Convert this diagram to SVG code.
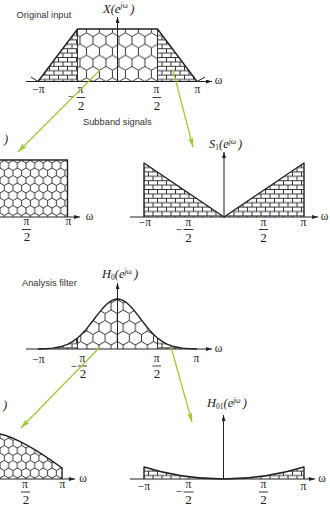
<svg xmlns="http://www.w3.org/2000/svg" width="330" height="508" viewBox="0 0 330 508">
<style>
.ax{stroke:#222;stroke-width:1;fill:none}
.ol{stroke:#222;stroke-width:1.4;fill:none;stroke-linejoin:round}
.thin{stroke:#222;stroke-width:0.9;fill:none}
.g{stroke:#9ccc3c;stroke-width:1.3;fill:none}
.cap{font-family:"Liberation Sans",Arial,sans-serif;font-size:9.3px;fill:#333}
.t{font-family:"Liberation Serif","Times New Roman",serif;font-size:11.5px;fill:#222;text-anchor:middle}
.two{font-size:13px}
.lab{font-family:"Liberation Serif","Times New Roman",serif;font-style:italic;font-size:12.5px;fill:#222}
.sup{font-size:7.5px}
.sub{font-size:7.5px;font-style:normal}
.hx{stroke:#222;stroke-width:0.9;fill:none}
</style>
<defs>
<pattern id="hexL" patternUnits="userSpaceOnUse" x="2" y="29" width="12.99" height="22.5">
<rect width="12.99" height="22.5" fill="#fff"/>
<path class="hx" d="M6.495,3.75 L12.99,7.5 L12.99,15 L6.495,18.75 L0,15 L0,7.5 Z M6.495,0 V3.75 M6.495,18.75 V22.5"/>
</pattern>
<pattern id="hexM" patternUnits="userSpaceOnUse" x="2" y="296" width="12.124" height="21">
<rect width="12.124" height="21" fill="#fff"/>
<path class="hx" d="M6.062,3.5 L12.124,7 L12.124,14 L6.062,17.5 L0,14 L0,7 Z M6.062,0 V3.5 M6.062,17.5 V21"/>
</pattern>
<pattern id="hexS" patternUnits="userSpaceOnUse" x="0" y="158" width="8.66" height="15">
<rect width="8.66" height="15" fill="#fff"/>
<path class="hx" d="M4.33,2.5 L8.66,5 L8.66,10 L4.33,12.5 L0,10 L0,5 Z M4.33,0 V2.5 M4.33,12.5 V15"/>
</pattern>
<pattern id="brick" patternUnits="userSpaceOnUse" x="0" y="0.3" width="9" height="8.8">
<rect width="9" height="8.8" fill="#fff"/>
<path class="hx" d="M0,0 H9 M0,4.4 H9 M0,8.8 H9 M0,0 V4.4 M9,0 V4.4 M4.5,4.4 V8.8"/>
</pattern>
<marker id="ah" viewBox="0 0 6 4" refX="6" refY="2" markerWidth="6" markerHeight="4" markerUnits="userSpaceOnUse" orient="auto"><path d="M0,0 L6,2 L0,4 Z" fill="#222"/></marker>
<marker id="ga" viewBox="0 0 10 6" refX="9.5" refY="3" markerWidth="10" markerHeight="6" markerUnits="userSpaceOnUse" orient="auto"><path d="M0,0.3 L10,3 L0,5.7 L2,3 Z" fill="#9ccc3c"/></marker>
</defs>
<rect width="330" height="508" fill="#fff"/>

<g id="caption-original"><text class="cap" x="16.5" y="18">Original input</text></g>
<g id="caption-subband"><text class="cap" x="83" y="124.5">Subband signals</text></g>
<g id="caption-analysis"><text class="cap" x="22" y="286">Analysis filter</text></g>

<g id="X-original">
<path d="M38,81.5 L77.5,29 L157.5,29 L197,81.5 Z" fill="url(#brick)"/>
<rect x="77.5" y="29" width="80" height="52.5" fill="url(#hexL)"/>
<path class="thin" d="M77.5,29 V81.5 M157.5,29 V81.5"/>
<path class="ol" d="M38,81.5 L77.5,29 L157.5,29 L197,81.5"/>
<path class="ax" d="M26,81.5 H212" marker-end="url(#ah)"/>
<path class="ax" d="M31,77 L38,81.5 M197,81.5 L205,77"/>
<path class="ax" d="M117.5,81.5 V17" marker-end="url(#ah)"/>
<text class="lab" x="103" y="12.5">X(e<tspan class="sup" dy="-4.5">jω</tspan><tspan dy="4.5" dx="2.5">)</tspan></text>
<text class="t" x="38.5" y="93">−π</text>
<text class="t" x="71" y="100">−</text>
<text class="t" x="80.5" y="93">π</text>
<path class="thin" d="M76.5,97.5 H85"/>
<text class="t two" x="81" y="109.5">2</text>
<text class="t" x="156.5" y="93">π</text>
<path class="thin" d="M152.5,97.5 H161"/>
<text class="t two" x="157" y="109.5">2</text>
<text class="t" x="197.5" y="93">π</text>
<text class="t" x="218.5" y="84">ω</text>
</g>

<g id="S0-subband">
<rect x="0" y="160" width="67.5" height="57" fill="url(#hexS)"/>
<path class="ol" d="M0,160 H67.5 V217"/>
<path class="ax" d="M0,217 H80" marker-end="url(#ah)"/>
<text class="lab" x="4" y="143">)</text>
<text class="t" x="26.5" y="225">π</text>
<path class="thin" d="M22,229.5 H31"/>
<text class="t two" x="27" y="241">2</text>
<text class="t" x="68.5" y="225">π</text>
<text class="t" x="89.5" y="219.5">ω</text>
</g>

<g id="S1-subband">
<path d="M144,163 L224,217 L144,217 Z" fill="url(#brick)"/>
<path d="M224,217 L304,163 L304,217 Z" fill="url(#brick)"/>
<path class="ol" d="M144,217 V163 L224,217 L304,163 V217"/>
<path class="ax" d="M130,217 H318" marker-end="url(#ah)"/>
<path class="ax" d="M224,217 V152" marker-end="url(#ah)"/>
<text class="lab" x="209" y="148">S<tspan class="sub" dy="2">1</tspan><tspan dy="-2">(e</tspan><tspan class="sup" dy="-4.5">jω</tspan><tspan dy="4.5" dx="2">)</tspan></text>
<text class="t" x="145" y="226">−π</text>
<text class="t" x="179" y="233">−</text>
<text class="t" x="188.5" y="226">π</text>
<path class="thin" d="M183.5,229.5 H193.5"/>
<text class="t two" x="188.5" y="241.5">2</text>
<text class="t" x="263.5" y="226">π</text>
<path class="thin" d="M259,229.5 H268"/>
<text class="t two" x="263.5" y="241.5">2</text>
<text class="t" x="303.5" y="226">π</text>
<text class="t" x="324.5" y="219.5">ω</text>
</g>

<g id="H0-analysis">
<path d="M38,349 L47.5,348.5 L52.5,348.1 L57.5,347.3 L62.5,346.1 L67.5,344.3 L72.5,341.6 L77.5,338 L157.5,338 L162.5,341.6 L167.5,344.3 L172.5,346.1 L177.5,347.3 L182.5,348.1 L187.5,348.5 L197,349 Z" fill="url(#brick)"/>
<path d="M77.5,349 L77.5,338 L80,335.8 L82.5,333.3 L85,330.6 L87.5,327.6 L90,324.5 L92.5,321.3 L95,318 L97.5,314.7 L100,311.6 L102.5,308.6 L105,305.9 L107.5,303.5 L110,301.6 L112.5,300.2 L115,299.3 L117.5,299 L120,299.3 L122.5,300.2 L125,301.6 L127.5,303.5 L130,305.9 L132.5,308.6 L135,311.6 L137.5,314.7 L140,318 L142.5,321.3 L145,324.5 L147.5,327.6 L150,330.6 L152.5,333.3 L155,335.8 L157.5,338 L157.5,349 Z" fill="url(#hexM)"/>
<path class="thin" d="M77.5,338 V349 M157.5,338 V349"/>
<path class="ol" d="M38,349 L47.5,348.5 L52.5,348.1 L57.5,347.3 L62.5,346.1 L67.5,344.3 L72.5,341.6 L77.5,338 L80,335.8 L82.5,333.3 L85,330.6 L87.5,327.6 L90,324.5 L92.5,321.3 L95,318 L97.5,314.7 L100,311.6 L102.5,308.6 L105,305.9 L107.5,303.5 L110,301.6 L112.5,300.2 L115,299.3 L117.5,299 L120,299.3 L122.5,300.2 L125,301.6 L127.5,303.5 L130,305.9 L132.5,308.6 L135,311.6 L137.5,314.7 L140,318 L142.5,321.3 L145,324.5 L147.5,327.6 L150,330.6 L152.5,333.3 L155,335.8 L157.5,338 L162.5,341.6 L167.5,344.3 L172.5,346.1 L177.5,347.3 L182.5,348.1 L187.5,348.5 L197,349"/>
<path class="ax" d="M26,349 H212" marker-end="url(#ah)"/>
<path class="ax" d="M117.5,349 V283" marker-end="url(#ah)"/>
<text class="lab" x="102" y="278">H<tspan class="sub" dy="2">0</tspan><tspan dy="-2">(e</tspan><tspan class="sup" dy="-4.5">jω</tspan><tspan dy="4.5" dx="2">)</tspan></text>
<text class="t" x="38.5" y="362.5">−π</text>
<text class="t" x="74" y="369.5">−</text>
<text class="t" x="82.5" y="361.5">π</text>
<path class="thin" d="M78,366 H87"/>
<text class="t two" x="83" y="378">2</text>
<text class="t" x="156.7" y="361.5">π</text>
<path class="thin" d="M152.5,366 H161"/>
<text class="t two" x="157" y="378">2</text>
<text class="t" x="196.5" y="362">π</text>
<text class="t" x="218.5" y="351.5">ω</text>
</g>

<g id="H1-analysis">
<path d="M0,434 C18,438 40,452 62,468 V479 H0 Z" fill="url(#hexS)"/>
<path class="ol" d="M0,434 C18,438 40,452 62,468 V479"/>
<path class="ax" d="M0,479 H75" marker-end="url(#ah)"/>
<text class="lab" x="3" y="409">)</text>
<text class="t" x="25" y="488">π</text>
<path class="thin" d="M21,492 H30"/>
<text class="t two" x="26" y="503.5">2</text>
<text class="t" x="62.5" y="488">π</text>
<text class="t" x="83" y="481.5">ω</text>
</g>

<g id="H01-analysis">
<path d="M144,467 Q182,479 223.5,479 L144,479 Z" fill="url(#brick)"/>
<path d="M223.5,479 Q265,479 304,467 V479 Z" fill="url(#brick)"/>
<path class="ol" d="M144,479 V467 Q182,479 223.5,479 Q265,479 304,467 V479"/>
<path class="ax" d="M130,479 H315" marker-end="url(#ah)"/>
<path class="ax" d="M223.5,479 V415" marker-end="url(#ah)"/>
<text class="lab" x="207" y="407">H<tspan class="sub" dy="2">01</tspan><tspan dy="-2">(e</tspan><tspan class="sup" dy="-4.5">jω</tspan><tspan dy="4.5" dx="2">)</tspan></text>
<text class="t" x="144" y="490">−π</text>
<text class="t" x="179" y="495">−</text>
<text class="t" x="188.5" y="488">π</text>
<path class="thin" d="M183.5,492 H193.5"/>
<text class="t two" x="188.5" y="503.5">2</text>
<text class="t" x="263.5" y="488">π</text>
<path class="thin" d="M259,492 H268"/>
<text class="t two" x="263.5" y="503.5">2</text>
<text class="t" x="303.5" y="490">π</text>
<text class="t" x="322" y="481.5">ω</text>
</g>

<g id="connectors">
<path class="g" d="M100,70 L18,152" marker-end="url(#ga)"/>
<path class="g" d="M173,70 L193,147" marker-end="url(#ga)"/>
<path class="g" d="M100,347 L21,428" marker-end="url(#ga)"/>
<path class="g" d="M171,347 L192,422" marker-end="url(#ga)"/>
</g>
</svg>
